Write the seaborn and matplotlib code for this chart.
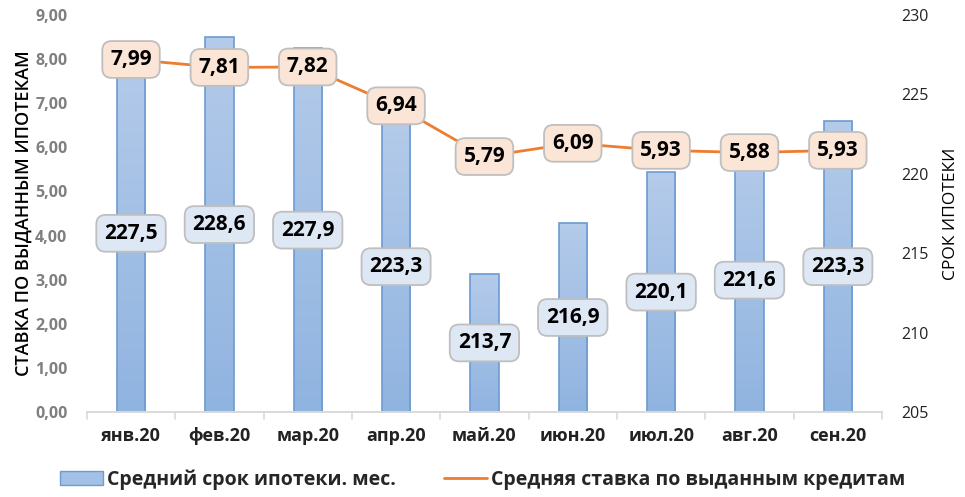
import numpy as np
import pandas as pd
import seaborn as sns
import matplotlib.pyplot as plt
from matplotlib.colors import LinearSegmentedColormap
from matplotlib.patches import Patch
from matplotlib.lines import Line2D

# данные с графика
months = ["янв.20", "фев.20", "мар.20", "апр.20", "май.20", "июн.20", "июл.20", "авг.20", "сен.20"]
term = [227.5, 228.6, 227.9, 223.3, 213.7, 216.9, 220.1, 221.6, 223.3]
rate = [7.99, 7.81, 7.82, 6.94, 5.79, 6.09, 5.93, 5.88, 5.93]

df = pd.DataFrame({"month": months, "term": term, "rate": rate})

sns.set_theme(style="white")
plt.rcParams["font.family"] = ["Open Sans", "DejaVu Sans"]

fig, ax = plt.subplots(figsize=(9.65, 4.97), dpi=100)
fig.subplots_adjust(left=0.09, right=0.914, top=0.97, bottom=0.171)
axb = ax.twinx()
axb.set_zorder(ax.get_zorder() - 1)
ax.patch.set_visible(False)

box_kw = dict(boxstyle="round,pad=0.38,rounding_size=0.45", ec="#bfbfbf", lw=1.3)

# столбцы - средний срок (правая ось)
sns.barplot(data=df, x="month", y="term", ax=axb, width=0.32,
            color="#a3c0e6", edgecolor="#6d9bd2", linewidth=1.2, zorder=2)
axb.set_ylim(205, 230)
cmap = LinearSegmentedColormap.from_list("bar", ["#b4cbea", "#90b4e0"])
grad = np.linspace(0, 1, 100).reshape(-1, 1)
for p in axb.patches:
    x0, w, h = p.get_x(), p.get_width(), p.get_height()
    im = axb.imshow(grad, cmap=cmap, aspect="auto", origin="upper",
                    extent=[x0, x0 + w, 205, h], zorder=1.5)
    im.set_clip_path(p)
    p.set_facecolor("none")
    axb.text(x0 + w / 2, (205 + h) / 2, f"{h:.1f}".replace(".", ","),
             ha="center", va="center", fontsize=15, fontweight="bold", color="black", zorder=5,
             bbox=dict(fc="#dde8f4", **box_kw))

# линия - ставка (левая ось)
sns.lineplot(data=df, x="month", y="rate", ax=ax, color="#ed7d31", linewidth=2, zorder=3)
ax.set_ylim(0, 9)
ax.set_xlim(-0.5, 8.5)
for i, v in enumerate(rate):
    ax.text(i, v, f"{v:.2f}".replace(".", ","), ha="center", va="center",
            fontsize=15, fontweight="bold", color="black", zorder=6,
            bbox=dict(fc="#fbe5d6", **box_kw))

# оси
ax.set_yticks(np.arange(0, 10, 1))
ax.set_yticklabels([f"{v:.2f}".replace(".", ",") for v in np.arange(0, 10, 1)],
                   fontsize=11.5, fontweight="bold", color="#7f7f7f")
axb.set_yticks(np.arange(205, 231, 5))
axb.set_yticklabels([str(v) for v in range(205, 231, 5)], fontsize=11.5, color="#222222")
ax.set_xticks(range(len(months)))
ax.set_xticklabels(months, fontsize=13, fontweight="bold", color="#222222")
ax.tick_params(axis="x", length=0, pad=11)
ax.tick_params(axis="y", length=0, pad=14)
axb.tick_params(axis="y", length=0, pad=14)
for x in np.arange(-0.5, 9, 1):
    ax.plot([x, x], [0, -0.15], color="#d9d9d9", lw=1.2, clip_on=False)

ax.set_xlabel("")
ax.set_ylabel("СТАВКА ПО ВЫДАННЫМ ИПОТЕКАМ", fontsize=13, fontweight="semibold", color="black", labelpad=2)
axb.set_ylabel("СРОК ИПОТЕКИ", fontsize=12.5, fontweight="medium", color="black", labelpad=10)
axb.set_xlabel("")

for a in (ax, axb):
    for s in ("top", "left", "right"):
        a.spines[s].set_visible(False)
    a.spines["bottom"].set_color("#d9d9d9")
    a.spines["bottom"].set_linewidth(1.2)

handles = [Patch(facecolor="#a3c0e6", edgecolor="#6d9bd2", label="Средний срок ипотеки. мес."),
           Line2D([0], [0], color="#ed7d31", lw=2, label="Средняя ставка по выданным кредитам")]
fig.legend(handles=handles, loc="center", bbox_to_anchor=(0.5, 0.035), ncol=2, frameon=False,
           prop={"size": 14, "weight": "bold"}, handlelength=2.2, handletextpad=0.2, columnspacing=2.5)

fig.savefig("out.png", dpi=100)
